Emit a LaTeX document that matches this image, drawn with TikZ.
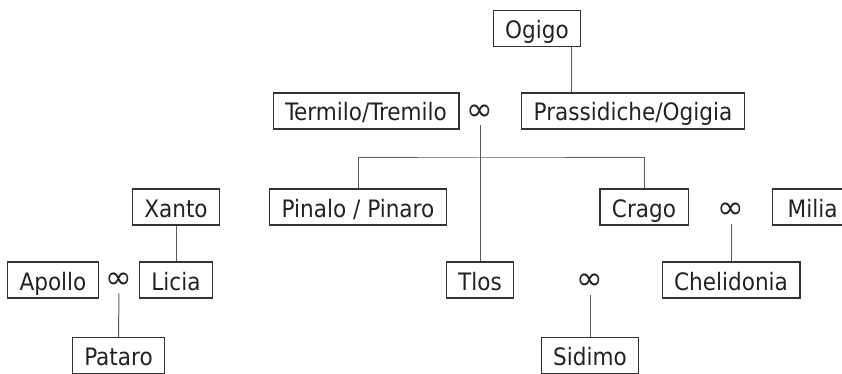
\documentclass[tikz,border=0pt]{standalone}
\usepackage{fontspec}
\setmainfont{DejaVu Sans Condensed}
\newfontfamily\symfont{DejaVu Sans}
\definecolor{boxline}{HTML}{333333}
\definecolor{linkline}{HTML}{5A5A5A}
\definecolor{txt}{HTML}{222222}
\begin{document}
\begin{tikzpicture}[
        x=1pt, y=-1pt,
        line width=1pt,
        every node/.style={font=\fontsize{24}{28}\selectfont, text=txt},
        box/.style={draw=boxline, line width=1.1pt, inner xsep=12pt,
                    minimum height=36pt, text height=23pt, text depth=3pt},
        wed/.style={inner sep=0pt, minimum height=24pt,
                    font=\symfont\fontsize{32}{36}\selectfont},
        link/.style={draw=linkline}
    ]
    \useasboundingbox (0,0) rectangle (842,374);

    % Top: Ogigo and the couple below
    \node[box] (ogigo) at (537,28.5) {Ogigo};
    \node[box] (termilo) at (366,111) {Termilo/Tremilo};
    \node[wed] (w1) at (480,113) {∞};
    \node[box] (prass) at (633,111) {Prassidiche/Ogigia};
    \coordinate (ogx) at (571,0);
    \draw[link] (ogigo.south -| ogx) -- (prass.north -| ogx);

    % Their children
    \node[box] (pinalo) at (358,207) {Pinalo / Pinaro};
    \node[box] (crago) at (644,207) {Crago};
    \node[box] (tlos) at (480,280) {Tlos};
    \coordinate (bar) at (480,158);
    \draw[link] (pinalo.north) |- (bar) -| (crago.north);
    \draw[link] (w1.south) -- (tlos.north);

    % Right: Crago and Milia
    \node[wed] (w2) at (731,211) {∞};
    \node[box, anchor=west, minimum width=80pt] (milia) at (772,207) {Milia};
    \node[box] (chel) at (731,280) {Chelidonia};
    \draw[link] (w2.south) -- (chel.north);

    \node[wed] (w3) at (590,282) {∞};
    \node[box] (sidimo) at (590,355.5) {Sidimo};
    \draw[link] (w3.south) -- (sidimo.north);

    % Left: Apollo and Licia
    \node[box] (xanto) at (176,207) {Xanto};
    \node[box] (apollo) at (53,280) {Apollo};
    \node[wed] (w4) at (119,281) {∞};
    \node[box] (licia) at (176,280) {Licia};
    \node[box] (pataro) at (118.5,355.5) {Pataro};
    \draw[link] (xanto.south) -- (licia.north);
    \draw[link] (w4.south) -- (pataro.north);
\end{tikzpicture}
\end{document}
